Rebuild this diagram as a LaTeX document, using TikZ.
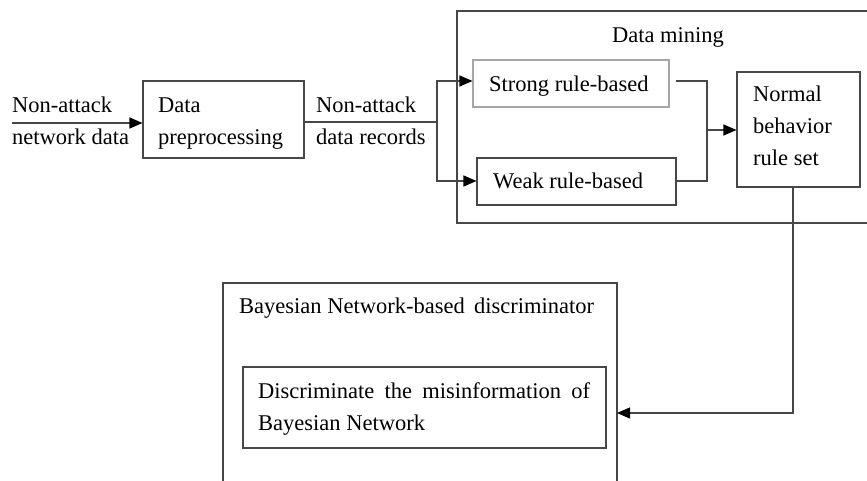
\documentclass[tikz,border=0pt]{standalone}
\usepackage{fontspec}
\setmainfont{Liberation Serif}
\usetikzlibrary{arrows.meta}
\begin{document}
\begin{tikzpicture}[x=1pt,y=-1pt,
  ln/.style={draw=black!72,line width=1.1pt},
  arr/.style={ln,-{Triangle[length=13pt,width=11pt,black]}},
  box/.style={ln,rectangle,inner sep=0pt},
  txt/.style={anchor=base west,inner sep=0pt,font=\fontsize{22.5}{32}\selectfont}]
\useasboundingbox (0,0) rectangle (867,481);
% frames
\draw[ln] (867,11) -- (457,11) -- (457,223) -- (867,223);
\node[txt,anchor=base] (dm) at (668,43) {Data mining};
\draw[ln] (223,481) -- (223,283) -- (617,283) -- (617,481);
\coordinate (bnE) at (617,413);
\node[txt] (bnT) at (239,313) {\hbox to 355pt{Bayesian Network-based\hfill discriminator}};
% boxes
\node[box,minimum width=161pt,minimum height=77pt] (pre) at (223.5,119.5) {};
\node[box,draw=black!35,minimum width=196pt,minimum height=47pt] (strong) at (571,83.5) {};
\node[box,minimum width=199pt,minimum height=47pt] (weak) at (576.5,181.5) {};
\node[box,minimum width=123pt,minimum height=115pt] (norm) at (798.5,129.5) {};
\node[box,minimum width=363pt,minimum height=81pt] (disc) at (424.5,407.5) {};
% texts
\node[txt] (t1) at (12,113) {Non-attack};
\node[txt] (t2) at (12,145) {network data};
\node[txt] (t3) at (158,113) {Data};
\node[txt] (t4) at (158,145) {preprocessing};
\node[txt] (t5) at (316,113) {Non-attack};
\node[txt] (t6) at (316,145) {data records};
\node[txt] (t7) at (489,92) {Strong rule-based};
\node[txt] (t8) at (493,189) {Weak rule-based};
\node[txt] (t9) at (753,102) {Normal};
\node[txt] (t10) at (753,134) {behavior};
\node[txt] (t11) at (753,166) {rule set};
\node[txt] (t12) at (258,398) {\hbox to 332pt{Discriminate\hfill the\hfill misinformation\hfill of}};
\node[txt] (t13) at (258,430) {Bayesian Network};
% connectors
\coordinate (inS) at (12,123);
\draw[arr] (inS) -- (inS -| pre.west);
\coordinate (sp) at (437,122);
\draw[ln] (sp -| pre.east) -- (sp);
\coordinate (sp1) at (437,81);
\coordinate (sp2) at (437,181);
\draw[arr] (sp) -- (sp1) -- (sp1 -| strong.west);
\draw[arr] (sp) -- (sp2) -- (sp2 -| weak.west);
\coordinate (m1) at (676,81);
\coordinate (mc) at (707,130);
\draw[ln] (m1) -| (mc);
\draw[ln] (sp2 -| weak.east) -| (mc);
\draw[arr] (mc) -- (mc -| norm.west);
\coordinate (dn) at (793,413);
\draw[arr] (dn |- norm.south) -- (dn) -- (bnE);
\end{tikzpicture}
\end{document}
